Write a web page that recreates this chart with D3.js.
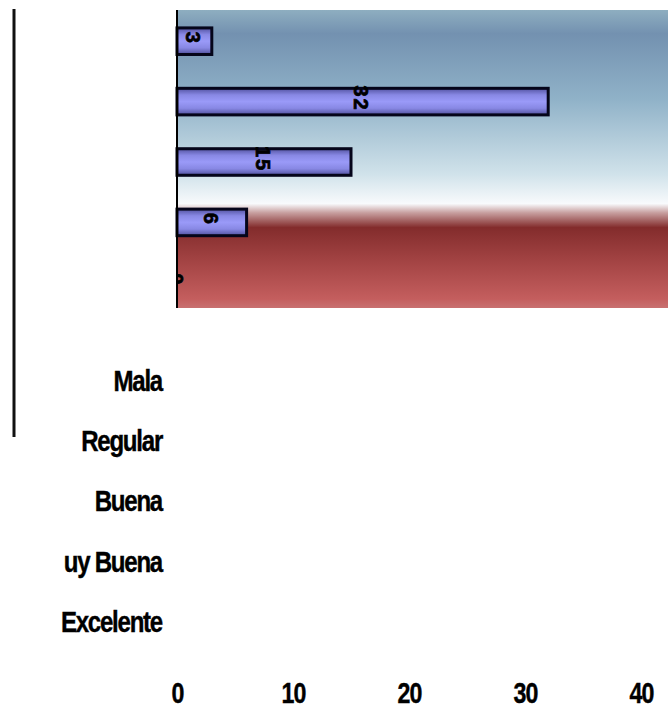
<!DOCTYPE html>
<html>
<head>
<meta charset="utf-8">
<script src="https://cdn.jsdelivr.net/npm/d3@7"></script>
<style>
  html, body { margin: 0; padding: 0; background: #ffffff; }
  svg { display: block; }
</style>
</head>
<body>
<script>
// Survey ratings and counts
const categories = ["Mala", "Regular", "Buena", "uy Buena", "Excelente"];
const values = [3, 32, 15, 6, 0];
const xTicks = [0, 10, 20, 30, 40];

const W = 668, H = 708;
const plot = { left: 177, right: 668, top: 10, bottom: 308 };
const labelShift = 339;          // category axis drawn below the plot
const bigFont = "'Liberation Sans', Arial, sans-serif";

const svg = d3.select("body").append("svg")
  .attr("width", W).attr("height", H);

const x = d3.scaleLinear().domain([0, 40]).range([177, 641]);
const y = d3.scaleBand().domain(categories).range([11, 313])
  .paddingInner(0.56).paddingOuter(0.28);

const defs = svg.append("defs");

// plot-area backdrop: steel blue fading to white, then a deep red band
const bg = defs.append("linearGradient").attr("id", "bgGrad")
  .attr("x1", 0).attr("y1", 0).attr("x2", 0).attr("y2", 1);
[
  [0.00, "#8eaec0"], [0.08, "#7391b0"], [0.30, "#90b2c8"], [0.55, "#d0e2ea"],
  [0.65, "#f8fafc"], [0.68, "#c8a0a0"], [0.73, "#832c2c"], [0.85, "#a54545"],
  [0.97, "#c45e5e"], [1.00, "#c87070"]
].forEach(([o, c]) => bg.append("stop").attr("offset", o).attr("stop-color", c));

// bar fill: lavender with darker top and bottom edges
const bar = defs.append("linearGradient").attr("id", "barGrad")
  .attr("x1", 0).attr("y1", 0).attr("x2", 0).attr("y2", 1);
[
  [0.00, "#5252a0"], [0.25, "#8888e4"], [0.50, "#9a9af8"], [0.75, "#8888e4"], [1.00, "#50509c"]
].forEach(([o, c]) => bar.append("stop").attr("offset", o).attr("stop-color", c));

defs.append("clipPath").attr("id", "plotClip").append("rect")
  .attr("x", plot.left).attr("y", plot.top)
  .attr("width", plot.right - plot.left).attr("height", plot.bottom - plot.top);

svg.append("rect")
  .attr("x", plot.left).attr("y", plot.top)
  .attr("width", plot.right - plot.left).attr("height", plot.bottom - plot.top)
  .attr("fill", "url(#bgGrad)");

// bars
svg.append("g").selectAll("rect").data(categories).join("rect")
  .attr("x", x(0))
  .attr("y", d => y(d))
  .attr("width", (d, i) => x(values[i]) - x(0))
  .attr("height", y.bandwidth())
  .attr("fill", "url(#barGrad)")
  .attr("stroke", "#05051a")
  .attr("stroke-width", 3);

// value axis line on the left of the plot
svg.append("line")
  .attr("x1", plot.left).attr("x2", plot.left)
  .attr("y1", plot.top).attr("y2", plot.bottom)
  .attr("stroke", "#000").attr("stroke-width", 2);

// rotated value labels
svg.append("g").attr("clip-path", "url(#plotClip)")
  .selectAll("text").data(categories).join("text")
  .attr("transform", (d, i) =>
    `translate(${(x(0) + x(values[i])) / 2 - 1},${y(d) + y.bandwidth() / 2 - 3}) rotate(90)`)
  .attr("text-anchor", "middle")
  .attr("dy", "0.36em")
  .attr("font-family", "'Liberation Sans', Arial, sans-serif")
  .attr("font-weight", "bold")
  .attr("font-size", 20)
  .attr("letter-spacing", 2)
  .attr("fill", "#000")
  .attr("stroke", "#000")
  .attr("stroke-width", 0.7)
  .text((d, i) => values[i]);

// category axis (labels only), condensed horizontally
const yAxis = svg.append("g")
  .attr("transform", `translate(162,${labelShift})`)
  .call(d3.axisLeft(y).tickSize(0).tickPadding(0));
yAxis.select(".domain").remove();
yAxis.selectAll("text")
  .attr("x", 0)
  .attr("transform", "scale(0.83,1)")
  .attr("font-family", bigFont)
  .attr("font-weight", "bold")
  .attr("font-size", 29)
  .attr("letter-spacing", -1.5)
  .attr("fill", "#000")
  .attr("stroke", "#000")
  .attr("stroke-width", 0.4)
  .attr("dy", "0.36em");

// value ticks along the bottom, condensed horizontally
const xAxis = svg.append("g")
  .attr("transform", "translate(0,682)")
  .call(d3.axisBottom(x).tickValues(xTicks).tickSize(0).tickPadding(0));
xAxis.select(".domain").remove();
xAxis.selectAll("text")
  .attr("transform", "scale(0.8,1)")
  .attr("font-family", bigFont)
  .attr("font-weight", "bold")
  .attr("font-size", 29)
  .attr("letter-spacing", -1)
  .attr("fill", "#000")
  .attr("stroke", "#000")
  .attr("stroke-width", 0.4)
  .attr("dy", "0.71em");

// stray vertical rule at the far left
svg.append("line")
  .attr("x1", 14).attr("x2", 14)
  .attr("y1", 9).attr("y2", 437)
  .attr("stroke", "#111").attr("stroke-width", 3);
</script>
</body>
</html>
